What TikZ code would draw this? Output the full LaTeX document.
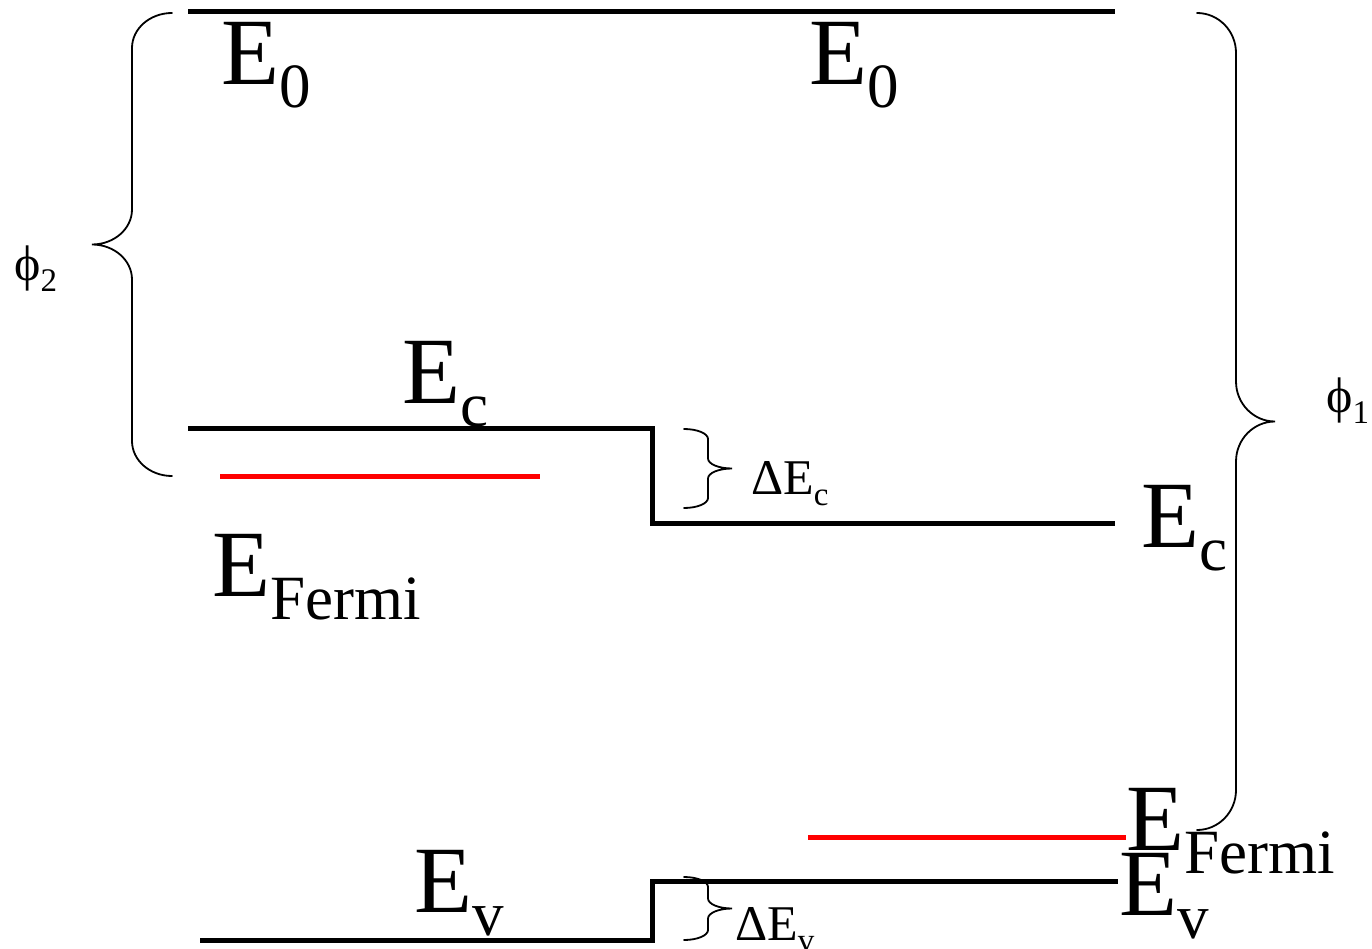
\documentclass[tikz,border=0pt]{standalone}
\usepackage{fontspec}
\setmainfont{Liberation Serif}
\begin{document}
\begin{tikzpicture}[x=1pt, y=-1pt,
  level/.style={line width=5pt},
  fermilevel/.style={line width=5pt, red},
  bracket/.style={line width=1.8pt, line cap=round},
  biglabel/.style={inner sep=0pt, anchor=base west, font=\fontsize{95}{95}\selectfont},
  smalllabel/.style={inner sep=0pt, anchor=base west, font=\fontsize{50}{50}\selectfont}]
% Band diagram of a heterojunction, drawn in pixel units (y grows downwards)
\providecommand{\bigsub}[1]{\raisebox{-23pt}{\fontsize{63}{63}\selectfont #1}}
\providecommand{\smallsub}[1]{\raisebox{-11pt}{\fontsize{33}{33}\selectfont #1}}
% brace: end x, tip x, top y, bottom y, corner radius
\providecommand{\levelbrace}[5]{%
  \pgfmathsetmacro{\bcx}{(#1+#2)/2}%
  \pgfmathsetmacro{\bcy}{(#3+#4)/2}%
  \pgfmathsetmacro{\kxa}{0.552*(\bcx-#1)}%
  \pgfmathsetmacro{\kxb}{0.552*(#2-\bcx)}%
  \pgfmathsetmacro{\kyy}{0.552*#5}%
  \draw[bracket] (#1,#3) .. controls +(\kxa,0) and +(0,-\kyy) .. (\bcx,#3+#5)
    -- (\bcx,\bcy-#5) .. controls +(0,\kyy) and +(-\kxb,0) .. (#2,\bcy)
    .. controls +(-\kxb,0) and +(0,-\kyy) .. (\bcx,\bcy+#5)
    -- (\bcx,#4-#5) .. controls +(0,\kyy) and +(\kxa,0) .. (#1,#4);}
\useasboundingbox (0,0) rectangle (1372,949);
% Vacuum level
\draw[level] (188,12) -- (1115,12);
% Conduction band with step
\draw[level] (188,428) -- (652,428) -- (652,523) -- (1115,523);
% Valence band with step
\draw[level] (200,940) -- (652,940) -- (652,881) -- (1118,881);
% Fermi levels
\draw[fermilevel] (220,476) -- (540,476);
\draw[fermilevel] (808,837) -- (1126,837);
% Braces
\levelbrace{172}{92}{13}{476}{35}
\levelbrace{1197}{1275}{13}{830}{40}
\levelbrace{684}{732}{429}{508}{10}
\levelbrace{684}{732}{877}{940}{10}
% Level labels
\node[biglabel] (e0left) at (221,85) {E\bigsub{0}};
\node[biglabel] (e0right) at (809,85) {E\bigsub{0}};
\node[biglabel] (ecleft) at (402,403) {E\bigsub{c}};
\node[biglabel] (efleft) at (212,596) {E\bigsub{Fermi}};
\node[biglabel] (ecright) at (1141,547) {E\bigsub{c}};
\node[biglabel] (efright) at (1126,850) {E\bigsub{Fermi}};
\node[biglabel] (evleft) at (414,912) {E\bigsub{v}};
\node[biglabel] (evright) at (1119,915) {E\bigsub{v}};
% Offsets and work functions
\node[smalllabel] (dec) at (751,494) {ΔE\smallsub{c}};
\node[smalllabel] (dev) at (735,940) {ΔE\smallsub{v}};
\node[smalllabel] (phitwo) at (14,281) {ϕ\smallsub{2}};
\node[smalllabel] (phione) at (1326,412) {ϕ\smallsub{1}};
\end{tikzpicture}
\end{document}
